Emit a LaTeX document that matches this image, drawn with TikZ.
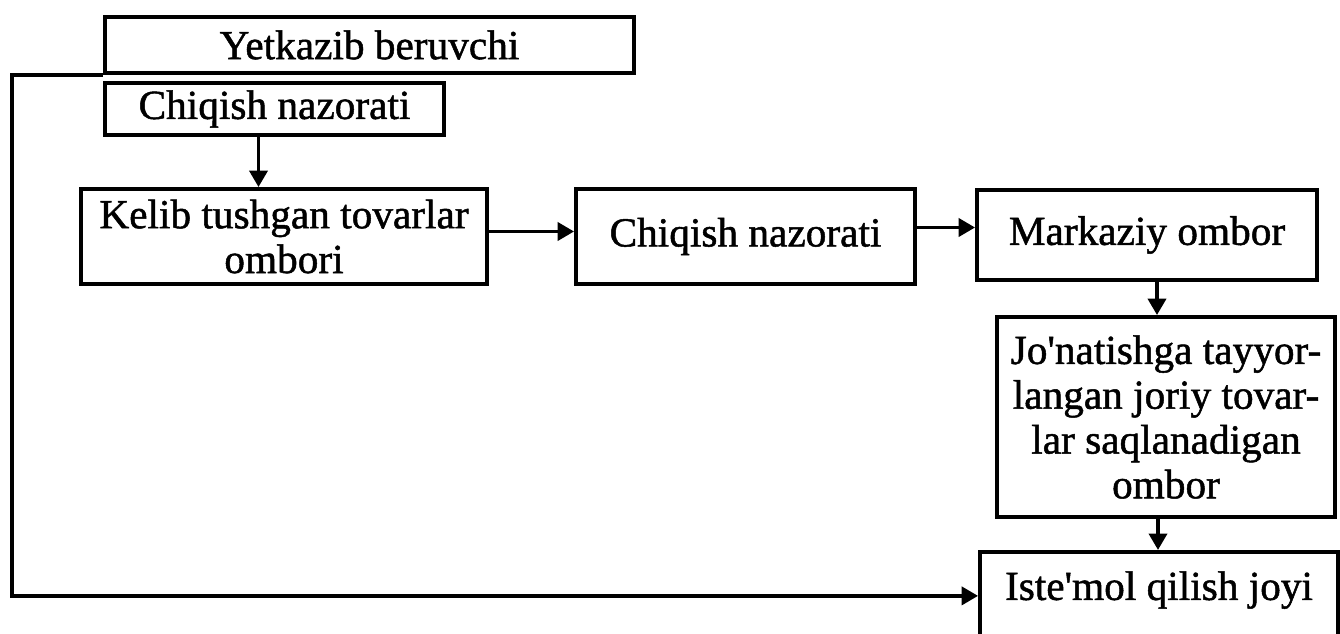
\documentclass[tikz,border=0pt]{standalone}
\usepackage{fontspec}
\setmainfont{Liberation Serif}[FakeBold=1.2]
\usetikzlibrary{arrows.meta}
\colorlet{chart-line}{black}

\begin{document}
\begin{tikzpicture}[
	block/.style={draw=chart-line,line width=2.2pt,align=center,inner xsep=0.1cm,inner ysep=0.1cm,
		font=\fontsize{23.5}{25.5}\selectfont},
	flow/.style={draw=chart-line,line width=2.2pt,-{Triangle[length=0.33cm,width=0.36cm]}}]
	\begin{scope}[x=0.02cm,y=-0.02cm]
	\useasboundingbox (0,0) rectangle (1340,634);
	\node (supplier) [block,minimum width=10.58cm,minimum height=1.12cm] at (369.5,45) {Yetkazib beruvchi};
	\node (exitctrl1) [block,minimum width=6.78cm,minimum height=1.04cm] at (274.5,109) {Chiqish nazorati};
	\node (instock) [block,minimum width=8.12cm,minimum height=1.9cm] at (284,236.5) {Kelib tushgan tovarlar\\ombori};
	\node (exitctrl2) [block,minimum width=6.78cm,minimum height=1.9cm] at (745.5,236.5) {Chiqish nazorati};
	\node (central) [block,minimum width=6.8cm,minimum height=1.8cm] at (1147,235) {Markaziy ombor};
	\node (ready) [block,minimum width=6.76cm,minimum height=4cm] at (1166,417) {Jo\textquotesingle natishga tayyor-\\langan joriy tovar-\\lar saqlanadigan\\ombor};
	% lower edge of this box lies below the page
	\node (consume) [block,anchor=north,minimum width=7.16cm,inner ysep=0.3cm,text height=0.66cm,text depth=1.4cm] at (1159,550) {Iste\textquotesingle mol qilish joyi};
	\draw[flow] ([xshift=-0.32cm]exitctrl1.south) -- ([xshift=-0.32cm]exitctrl1.south |- instock.north);
	\draw[flow] ([yshift=0.1cm]instock.east) -- ([yshift=0.1cm]instock.east -| exitctrl2.west);
	\draw[flow] ([yshift=0.18cm]exitctrl2.east) -- ([yshift=0.18cm]exitctrl2.east -| central.west);
	\draw[flow] ([xshift=0.2cm]central.south) -- ([xshift=0.2cm]central.south |- ready.north);
	\draw[flow] ([xshift=-0.16cm]ready.south) -- ([xshift=-0.16cm]ready.south |- consume.north);
	\draw[flow] (supplier.south west) -- ++(-91,0) |- (consume.mid west);
	\end{scope}
\end{tikzpicture}
\end{document}
